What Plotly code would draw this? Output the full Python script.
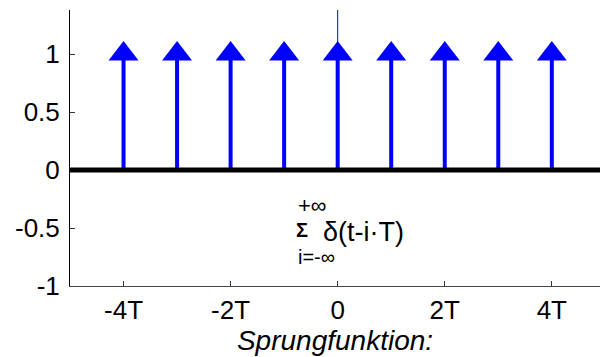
import plotly.graph_objects as go

# Dirac comb: impulses at integer multiples of T
impulse_t = [-4, -3, -2, -1, 0, 1, 2, 3, 4]
impulse_height = [1, 1, 1, 1, 1, 1, 1, 1, 1]

x_tick_vals = [-4, -2, 0, 2, 4]
x_tick_text = ["-4T", "-2T", "0", "2T", "4T"]
y_tick_vals = [-1, -0.5, 0, 0.5, 1]
y_tick_text = ["-1", "-0.5", "0", "0.5", "1"]

x_range = [-5, 4.9]
y_range = [-1, 1.38]

FONT = "Liberation Sans, Arial, sans-serif"
BLUE = "#0000ff"

# stems drawn as one polyline with gaps
stem_x, stem_y = [], []
for t, h in zip(impulse_t, impulse_height):
    stem_x += [t, t, None]
    stem_y += [0, h, None]

fig = go.Figure()
fig.add_trace(go.Scatter(x=stem_x, y=stem_y, mode="lines",
                         line=dict(color=BLUE, width=4), hoverinfo="skip"))
# thin line above the impulse at t = 0
fig.add_trace(go.Scatter(x=[0, 0], y=[1, y_range[1]], mode="lines",
                         line=dict(color=BLUE, width=1), hoverinfo="skip"))
# arrow heads
fig.add_trace(go.Scatter(x=impulse_t, y=impulse_height, mode="markers",
                         marker=dict(symbol="triangle-up", size=26, color=BLUE,
                                     line=dict(width=0)),
                         hoverinfo="skip"))

# heavy baseline at zero
fig.add_shape(type="line", xref="paper", x0=0, x1=1, yref="y", y0=0, y1=0,
              line=dict(color="black", width=5), layer="above")

# sum formula
fig.add_annotation(x=-0.66, y=-0.515, text="<b>Σ</b>", showarrow=False,
                   font=dict(family=FONT, size=20, color="black"))
fig.add_annotation(x=-0.47, y=-0.31, text="+∞", showarrow=False,
                   font=dict(family=FONT, size=22, color="black"))
fig.add_annotation(x=-0.39, y=-0.75, text="i=-∞", showarrow=False,
                   font=dict(family=FONT, size=20, color="black"))
fig.add_annotation(x=0.48, y=-0.535, text="δ(t-i·T)", showarrow=False,
                   font=dict(family=FONT, size=27, color="black"))

fig.update_layout(
    width=600, height=357,
    margin=dict(l=70, r=0, t=10, b=71),
    paper_bgcolor="white", plot_bgcolor="white",
    showlegend=False,
    font=dict(family=FONT, size=26, color="black"),
    xaxis=dict(range=x_range, tickvals=x_tick_vals, ticktext=x_tick_text,
               ticks="inside", ticklen=5, tickcolor="#333", tickwidth=1,
               showline=True, linecolor="#444", linewidth=1,
               showgrid=False, zeroline=False, ticklabelstandoff=1,
               title=dict(text="<i>Sprungfunktion:</i>", standoff=0,
                          font=dict(family=FONT, size=28))),
    yaxis=dict(range=y_range, tickvals=y_tick_vals, ticktext=y_tick_text,
               ticks="inside", ticklen=5, tickcolor="#333", tickwidth=1,
               showline=True, linecolor="black", linewidth=1,
               showgrid=False, zeroline=False, ticklabelstandoff=4),
)

fig.write_html("out.html")
